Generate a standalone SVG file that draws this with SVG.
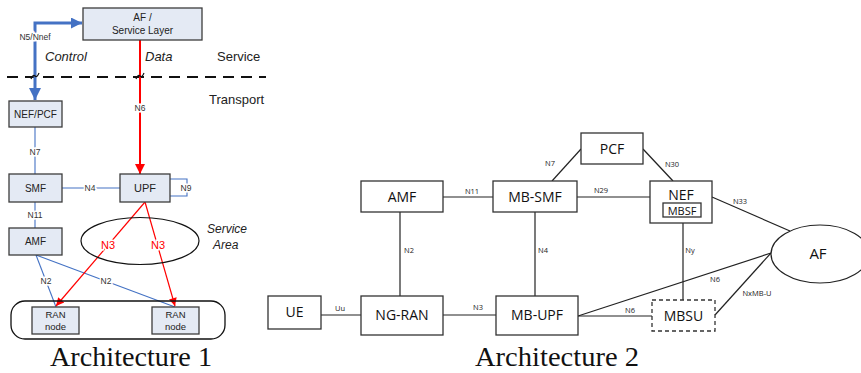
<svg xmlns="http://www.w3.org/2000/svg" width="861" height="373" viewBox="0 0 861 373">
<style>
.lbox{fill:#e4eaf4;stroke:#3c3c3c;stroke-width:1.3}
.ltxt{font-family:"Liberation Sans",Arial,sans-serif;font-size:10px;fill:#222;text-anchor:middle}
.lsm{font-family:"Liberation Sans",Arial,sans-serif;font-size:8.5px;fill:#333;text-anchor:middle;stroke:#fff;stroke-width:3;paint-order:stroke}
.red{font-family:"Liberation Sans",Arial,sans-serif;font-size:11px;fill:#ff0000;text-anchor:middle;stroke:#fff;stroke-width:3;paint-order:stroke}
.it{font-family:"Liberation Sans",Arial,sans-serif;font-size:13px;font-style:italic;fill:#222}
.pl{font-family:"Liberation Sans",Arial,sans-serif;font-size:13px;fill:#222}
.blue{stroke:#4472c4;stroke-width:1.1;fill:none}
.rbox{fill:#fff;stroke:#333;stroke-width:1.3}
.rtxt{font-family:"Open Sans",Arial,sans-serif;font-size:14px;fill:#111;text-anchor:middle}
.rsm{font-family:"Open Sans",Arial,sans-serif;font-size:7.5px;fill:#222;text-anchor:middle}
.ln{stroke:#222;stroke-width:1.2;fill:none}
.cap{font-family:"Liberation Serif","Times New Roman",serif;font-size:27px;fill:#111}
</style>
<defs>
<marker id="bhead" viewBox="0 0 10 10" refX="10" refY="5" markerWidth="16" markerHeight="11" markerUnits="userSpaceOnUse" orient="auto-start-reverse"><path d="M0,0 L10,5 L0,10 Z" fill="#4472c4"/></marker>
<marker id="bhead2" viewBox="0 0 10 10" refX="10" refY="5" markerWidth="18" markerHeight="12" markerUnits="userSpaceOnUse" orient="auto-start-reverse"><path d="M0,0 L10,5 L0,10 Z" fill="#4472c4"/></marker>
<marker id="rhead" viewBox="0 0 10 10" refX="10" refY="5" markerWidth="13" markerHeight="10" markerUnits="userSpaceOnUse" orient="auto"><path d="M0,0 L10,5 L0,10 Z" fill="#ff0000"/></marker>
<marker id="rhead2" viewBox="0 0 10 10" refX="10" refY="5" markerWidth="10" markerHeight="8" markerUnits="userSpaceOnUse" orient="auto"><path d="M0,0 L10,5 L0,10 Z" fill="#ff0000"/></marker>
</defs>

<!-- Architecture 1 layer separator -->
<g id="separator">
<line x1="7" y1="77" x2="266" y2="77" stroke="#111" stroke-width="2" stroke-dasharray="11 7"/>
<text class="it" x="45" y="61">Control</text>
<text class="it" x="145" y="61">Data</text>
<text class="pl" x="217" y="61">Service</text>
<text class="pl" x="209" y="104">Transport</text>
</g>

<g id="connectors1">
<path d="M35,100 V23 H82" stroke="#4472c4" stroke-width="3" fill="none" marker-start="url(#bhead2)" marker-end="url(#bhead)"/>
<path d="M31,79 q2,-5 4,-3 q2,2 4,-3" stroke="#111" stroke-width="1.2" fill="none"/>
<line x1="140" y1="40" x2="140" y2="174" stroke="#ff0000" stroke-width="2" marker-end="url(#rhead)"/>
<path d="M136,79 q2,-5 4,-3 q2,2 4,-3" stroke="#111" stroke-width="1.2" fill="none"/>
<text class="lsm" x="35" y="40">N5/Nnef</text>
<text class="lsm" x="140" y="111">N6</text>
<line class="blue" x1="35" y1="127" x2="35" y2="174"/>
<text class="lsm" x="35" y="155">N7</text>
<line class="blue" x1="62" y1="188" x2="120" y2="188"/>
<text class="lsm" x="90" y="191">N4</text>
<path class="blue" d="M170,179 H187 V196 H170"/>
<text class="lsm" x="186" y="191">N9</text>
<line class="blue" x1="35" y1="202" x2="35" y2="228"/>
<text class="lsm" x="35" y="218">N11</text>
<line class="blue" x1="36" y1="255" x2="56" y2="307"/>
<line class="blue" x1="36" y1="255" x2="175" y2="307"/>
<text class="lsm" x="46" y="284">N2</text>
<text class="lsm" x="106" y="284">N2</text>
<line x1="145" y1="202" x2="56" y2="306" stroke="#ff0000" stroke-width="1.2" marker-end="url(#rhead2)"/>
<line x1="145" y1="202" x2="175" y2="306" stroke="#ff0000" stroke-width="1.2" marker-end="url(#rhead2)"/>
<text class="red" x="108" y="249">N3</text>
<text class="red" x="158" y="249">N3</text>
</g>

<g id="af-service-layer"><rect class="lbox" x="83" y="8" width="119" height="32"/><text class="ltxt" x="142.5" y="21">AF /</text><text class="ltxt" x="142.5" y="34">Service Layer</text></g>
<g id="nef-pcf"><rect class="lbox" x="9" y="101" width="53" height="26"/><text class="ltxt" x="35.5" y="118">NEF/PCF</text></g>
<g id="smf"><rect class="lbox" x="9" y="174" width="53" height="28"/><text class="ltxt" x="35.5" y="192">SMF</text></g>
<g id="upf"><rect class="lbox" x="120" y="174" width="50" height="28"/><text class="ltxt" x="145" y="192" style="font-size:11px">UPF</text></g>
<g id="amf1"><rect class="lbox" x="9" y="228" width="53" height="27"/><text class="ltxt" x="35.5" y="245">AMF</text></g>
<g id="service-area"><ellipse cx="140" cy="241" rx="59" ry="23.5" fill="none" stroke="#111" stroke-width="1.2"/><text class="it" x="207" y="233" style="font-size:12px">Service</text><text class="it" x="213" y="249" style="font-size:12px">Area</text></g>
<g id="ran-group"><rect x="11" y="301" width="214" height="38" rx="14" fill="none" stroke="#111" stroke-width="1.3"/></g>
<g id="ran1"><rect class="lbox" x="32" y="307" width="47" height="27"/><text class="ltxt" x="55.5" y="318" style="font-size:9.5px">RAN</text><text class="ltxt" x="55.5" y="330" style="font-size:9.5px">node</text></g>
<g id="ran2"><rect class="lbox" x="152" y="307" width="47" height="27"/><text class="ltxt" x="175.5" y="318" style="font-size:9.5px">RAN</text><text class="ltxt" x="175.5" y="330" style="font-size:9.5px">node</text></g>
<text class="cap" x="50" y="366" textLength="162" lengthAdjust="spacingAndGlyphs">Architecture 1</text>

<!-- Architecture 2 -->
<g id="connectors2">
<line class="ln" x1="443" y1="197" x2="493" y2="197"/>
<line class="ln" x1="552" y1="181" x2="581" y2="149"/>
<line class="ln" x1="643" y1="149" x2="673" y2="181"/>
<line class="ln" x1="577" y1="197" x2="650" y2="197"/>
<line class="ln" x1="712" y1="197" x2="790" y2="231"/>
<line class="ln" x1="683" y1="217" x2="683" y2="300"/>
<line class="ln" x1="400" y1="212" x2="400" y2="296"/>
<line class="ln" x1="535" y1="212" x2="535" y2="296"/>
<line class="ln" x1="321" y1="315" x2="361" y2="315"/>
<line class="ln" x1="443" y1="315" x2="496" y2="315"/>
<line class="ln" x1="578" y1="316" x2="652" y2="316"/>
<line class="ln" x1="578" y1="316" x2="771" y2="253"/>
<line class="ln" x1="715" y1="315" x2="771" y2="253"/>
<text class="rsm" x="472" y="194">N11</text>
<text class="rsm" x="550" y="166">N7</text>
<text class="rsm" x="672" y="167">N30</text>
<text class="rsm" x="601" y="193">N29</text>
<text class="rsm" x="740" y="204">N33</text>
<text class="rsm" x="690" y="253">Ny</text>
<text class="rsm" x="715" y="282">N6</text>
<text class="rsm" x="757" y="296">NxMB-U</text>
<text class="rsm" x="630" y="313">N6</text>
<text class="rsm" x="409" y="253">N2</text>
<text class="rsm" x="543" y="253">N4</text>
<text class="rsm" x="340" y="311">Uu</text>
<text class="rsm" x="478" y="310">N3</text>
</g>
<g id="amf2"><rect class="rbox" x="361" y="181" width="82" height="31"/><text class="rtxt" x="402" y="202">AMF</text></g>
<g id="mb-smf"><rect class="rbox" x="493" y="181" width="84" height="31"/><text class="rtxt" x="535" y="202">MB-SMF</text></g>
<g id="pcf"><rect class="rbox" x="581" y="133" width="62" height="31"/><text class="rtxt" x="612" y="154">PCF</text></g>
<g id="nef"><rect class="rbox" x="650" y="181" width="62" height="42"/><text class="rtxt" x="681" y="200">NEF</text><rect class="rbox" x="663" y="203" width="38" height="14"/><text class="rtxt" x="682" y="215" style="font-size:11px">MBSF</text></g>
<g id="af2"><ellipse cx="820" cy="254" rx="49" ry="29" fill="#fff" stroke="#222" stroke-width="1.2"/><text class="rtxt" x="818" y="259" style="font-size:15px">AF</text></g>
<g id="ue"><rect class="rbox" x="268" y="296" width="53" height="33"/><text class="rtxt" x="294.5" y="317">UE</text></g>
<g id="ng-ran"><rect class="rbox" x="361" y="296" width="82" height="39"/><text class="rtxt" x="402" y="320">NG-RAN</text></g>
<g id="mb-upf"><rect class="rbox" x="496" y="296" width="82" height="39"/><text class="rtxt" x="537" y="320">MB-UPF</text></g>
<g id="mbsu"><rect class="rbox" x="652" y="300" width="63" height="31" stroke-dasharray="4 3"/><text class="rtxt" x="683.5" y="321">MBSU</text></g>
<text class="cap" x="475" y="366" textLength="164" lengthAdjust="spacingAndGlyphs">Architecture 2</text>
</svg>
